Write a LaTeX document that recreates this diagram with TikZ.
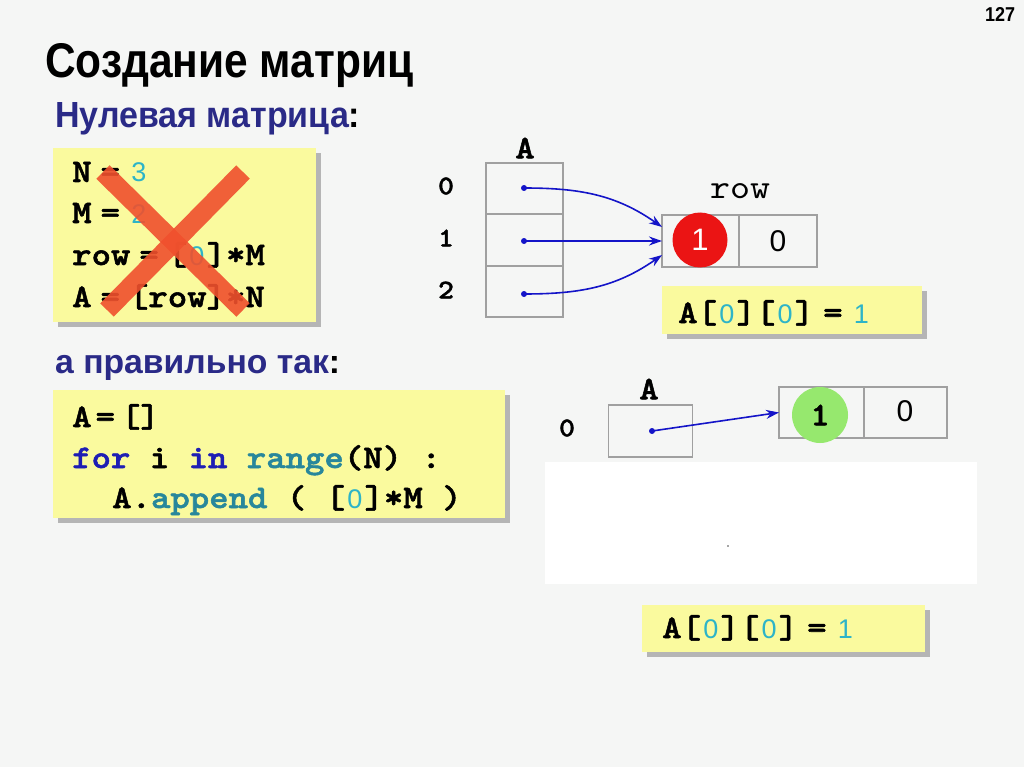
\documentclass[tikz,border=0pt]{standalone}
\usepackage{fontspec}
\setmainfont{Liberation Sans}
\newfontfamily\codefont[FakeStretch=1.12,FakeBold=1.6]{lmmonolt10-bold.otf}
\newfontfamily\codereg[FakeStretch=1.12]{lmmono10-regular.otf}
\usetikzlibrary{arrows.meta,shadows}
\definecolor{bgc}{RGB}{245,246,245}
\definecolor{yelc}{RGB}{250,250,158}
\definecolor{shc}{RGB}{165,165,165}
\definecolor{kwc}{RGB}{30,30,180}
\definecolor{bic}{RGB}{40,135,155}
\definecolor{numc}{RGB}{45,180,200}
\definecolor{navyc}{RGB}{42,42,135}
\definecolor{arrc}{RGB}{20,20,200}
\definecolor{gridc}{RGB}{160,160,160}
\definecolor{xc}{RGB}{240,80,45}
\definecolor{redc}{RGB}{235,20,20}
\definecolor{greenc}{RGB}{150,232,110}
\newcommand\nm[1]{\makebox[19.5pt]{\normalfont\fontsize{27}{27}\selectfont\color{numc}#1}}
\newcommand\eqs{\hspace{9pt}=\hspace{9pt}}
\newcommand\kw[1]{\textcolor{kwc}{#1}}
\newcommand\bi[1]{\textcolor{bic}{#1}}
\tikzset{
  code/.style={anchor=base west, inner sep=0pt, font=\codefont\fontsize{33}{33}\selectfont},
  ybox/.style={draw=none, fill=yelc, inner sep=0pt, outer sep=0pt,
    general shadow={fill=shc, opacity=0.8, shadow xshift=5pt, shadow yshift=-5pt}},
  cell/.style={draw=gridc, line width=1.8pt, inner sep=0pt, outer sep=0pt},
  lbl/.style={inner sep=0pt, font=\codefont\fontsize{27}{27}\selectfont},
  bigl/.style={inner sep=0pt, font=\codefont\fontsize{33}{33}\selectfont},
  arr/.style={draw=arrc, line width=1.6pt, -{Stealth[length=13pt,width=9pt]}},
  xline/.style={draw=xc, line width=19pt, opacity=0.9},
  dotc/.style={fill=arrc}
}
\begin{document}
\begin{tikzpicture}[x=1pt,y=-1pt]
\useasboundingbox (0,0) rectangle (1024,767);
\fill[bgc] (0,0) rectangle (1024,767);
% titles
\node[anchor=base west, inner sep=0pt] (pnum) at (985,22) {\resizebox{30pt}{14pt}{\bfseries 127}};
\node[anchor=base west, inner sep=0pt] (title) at (45,78) {\resizebox{368pt}{34pt}{\bfseries Создание матриц}};
\node[anchor=base west, inner sep=0pt] (sub1) at (55,128) {\resizebox{305pt}{25pt}{\bfseries\textcolor{navyc}{Нулевая матрица}:}};
\node[anchor=base west, inner sep=0pt] (sub2) at (55,373) {\resizebox{285pt}{!}{\bfseries\textcolor{navyc}{а правильно так}:}};
% code box 1
\node[ybox, minimum width=263pt, minimum height=174pt] (code1) at (184.5,235) {};
\node[code] (l1) at (72,182) {N\eqs\nm{3}};
\node[code] (l2) at (72,223) {M\eqs\nm{2}};
\node[code] (l3) at (72,265) {row\eqs[\nm{0}]*M};
\node[code] (l4) at (72,307) {A\eqs[row]*N};
\draw[xline] (103,172) -- (243,310);
\draw[xline] (243,172) -- (107,310);
% code box 2
\node[ybox, minimum width=452pt, minimum height=128pt] (code2) at (279,454) {};
\node[code] (m1) at (72,427) {A\hspace{4pt}=\hspace{6pt}[]};
\node[code] (m2) at (72,468) {\kw{for} i \kw{in} \bi{range}(N) :};
\node[code] (m3) at (112,508) {A.\bi{append} ( [\nm{0}]*M )};
% top diagram
\node[bigl] (la) at (525,148) {A};
\node[cell, minimum width=77pt, minimum height=51.3pt] (a0) at (524.5,188.7) {};
\node[cell, minimum width=77pt, minimum height=51.3pt] (a1) at (524.5,240) {};
\node[cell, minimum width=77pt, minimum height=51.3pt] (a2) at (524.5,291.3) {};
\node[lbl] (i0) at (446,186) {0};
\node[lbl] (i1) at (446,238) {1};
\node[lbl] (i2) at (446,290) {2};
\node[inner sep=0pt, font=\codereg\fontsize{34}{34}\selectfont] (lrow) at (740,191) {row};
\node[cell, minimum width=77pt, minimum height=52pt] (r0) at (700.5,241) {};
\node[cell, minimum width=78pt, minimum height=52pt] (r1) at (778,241) {};
\node[inner sep=0pt, font=\fontsize{30}{30}\selectfont] (v1) at (778,241) {0};
\coordinate (d0) at (524,188);
\coordinate (d1) at (524,241);
\coordinate (d2) at (524,294);
\fill[dotc] (d0) circle (3pt);
\fill[dotc] (d1) circle (3pt);
\fill[dotc] (d2) circle (3pt);
\draw[arr] (d0) to[out=0,in=145] (r0.160);
\draw[arr] (d1) -- (r0.west);
\draw[arr] (d2) to[out=0,in=215] (r0.200);
\node[circle, fill=redc, minimum size=55pt, inner sep=0pt, text=white, font=\fontsize{31}{31}\selectfont] (c1) at (700,240) {1};
\node[ybox, minimum width=260pt, minimum height=48pt] (as1) at (792,310) {};
\node[code] (t1) at (678,323) {A[\nm{0}][\nm{0}]\eqs\nm{1}};
% bottom diagram
\node[bigl] (lb) at (649,389) {A};
\node[lbl] (j0) at (567,428) {0};
\node[cell, minimum width=84pt, minimum height=52pt] (b0) at (650.5,431) {};
\node[cell, minimum width=85pt, minimum height=51pt] (s0) at (821.5,412.5) {};
\node[cell, minimum width=83pt, minimum height=51pt] (s1) at (905.5,412.5) {};
\node[inner sep=0pt, font=\fontsize{30}{30}\selectfont] (v2) at (905,411) {0};
\coordinate (e0) at (652,431);
\fill[dotc] (e0) circle (3pt);
\draw[arr] (e0) -- (s0.west);
\node[circle, fill=greenc, minimum size=56pt, inner sep=0pt, font=\codefont\fontsize{33}{33}\selectfont] (g1) at (820,415) {1};
% white mask
\fill[white] (545,462) rectangle (977,584);
\fill[black!70] (728,546) circle (0.8pt);
\node[ybox, minimum width=283pt, minimum height=47pt] (as2) at (783.5,628.5) {};
\node[code] (t2) at (662,638) {A[\nm{0}][\nm{0}]\eqs\nm{1}};
\end{tikzpicture}
\end{document}
